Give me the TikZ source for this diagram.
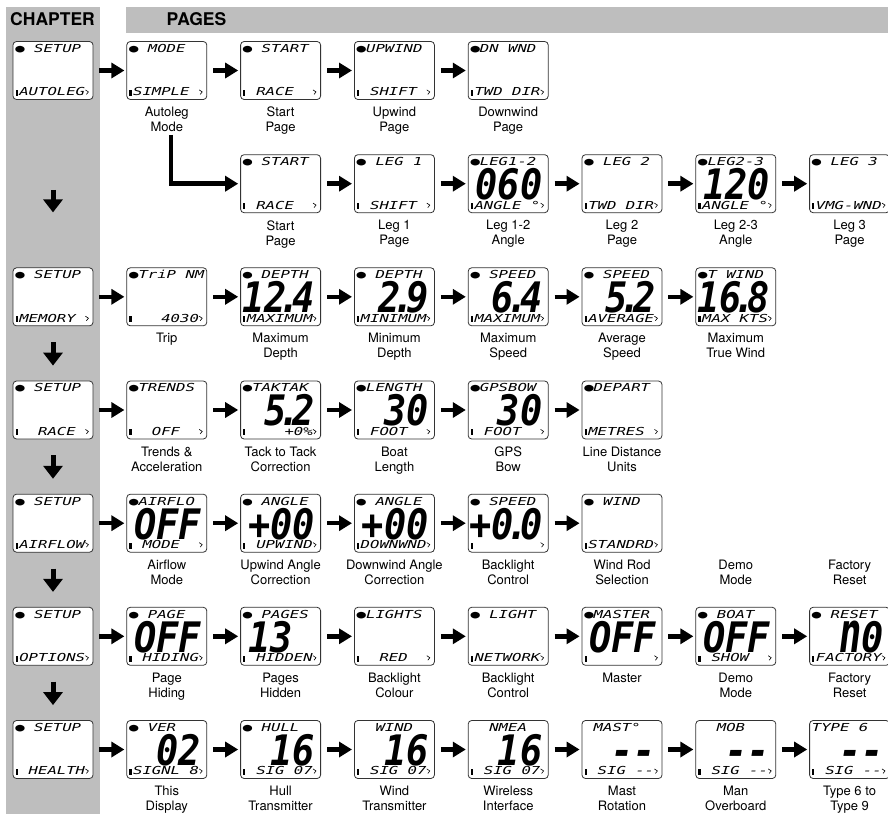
\documentclass[tikz,border=0pt]{standalone}
\usepackage{graphicx}
\usepackage{fontspec}
\setmainfont{TeX Gyre Heros}
\newfontfamily\lcdfont{DejaVu Sans Mono}
\usepackage{tikz}
\usetikzlibrary{arrows.meta,positioning}

\definecolor{band}{RGB}{190,190,190}

\newcommand{\lcdtext}[1]{\scalebox{1.42}[1]{\lcdfont\itshape\fontsize{11}{11}\selectfont #1}}
\newcommand{\bigtext}[1]{\scalebox{0.88}[1]{\lcdfont\bfseries\itshape\fontsize{42}{42}\selectfont #1}}
\newcommand{\dotp}{\kern-0.22em.\kern-0.22em}
\newcommand{\lcdscreen}[6]{%
  \node[screen,#2] (#1) {};
  \node[lcdtop] (#1top) at ([xshift=2.5pt,yshift=-3pt]#1.north west) {\lcdtext{#3}};
  \if\relax\detokenize{#4}\relax\else
    \node[lcdbig] (#1big) at ([xshift=-6pt,yshift=13.5pt]#1.south east) {\bigtext{#4}};
  \fi
  \node[lcdbot] (#1bot) at ([xshift=6.5pt,yshift=4pt]#1.south west) {\lcdtext{#5}};
  \fill ([xshift=3pt,yshift=4pt]#1.south west) rectangle ++(2.2pt,6pt);
  \draw[line width=0.6pt] ([xshift=-8pt,yshift=10pt]#1.south east) -- ++(3pt,-2pt) -- ++(-2pt,-2.5pt);
  \if\relax\detokenize{#6}\relax\else
    \node[caption, below=7pt of #1] (#1cap) {#6};
  \fi
}

\begin{document}
\begin{tikzpicture}[x=1pt, y=1pt,
  node distance=54.4pt and 33pt,
  screen/.style={draw=black!80, line width=0.8pt, fill=white, rounded corners=3.5pt, minimum width=80pt, minimum height=58pt, inner sep=0pt},
  lcdtop/.style={anchor=north west, inner sep=0pt},
  lcdbot/.style={anchor=base west, inner sep=0pt},
  lcdbig/.style={anchor=base east, inner sep=0pt},
  caption/.style={align=center, inner sep=0pt, font=\fontsize{13}{15}\selectfont},
  header/.style={inner sep=0pt, font=\fontsize{17.5}{18}\selectfont\bfseries},
  arrow/.style={-{Triangle[length=13pt,width=15pt]}, line width=4.5pt, shorten <=6pt, shorten >=2pt},
  downarrow/.style={-{Triangle[length=13pt,width=19pt]}, line width=5pt, shorten <=16pt, shorten >=15pt}
]
\useasboundingbox (0,0) rectangle (888,-814);
\clip (0,0) rectangle (888,-814);

\fill[band] (6,-7) rectangle (100,-814);
\fill[band] (126,-7) rectangle (888,-33);
\node[header] (chapter) at (52.5,-19) {CHAPTER};
\node[header] (pages) at (196.5,-19.5) {PAGES};

\lcdscreen{ch1}{at={(53,-70.5)}}{●~SETUP}{}{AUTOLEG}{}
\lcdscreen{mode}{right=of ch1}{●~MODE}{}{SIMPLE}{Autoleg\\Mode}
\lcdscreen{start}{right=of mode}{●~START}{}{~RACE}{Start\\Page}
\lcdscreen{upwind}{right=of start}{●UPWIND}{}{~SHIFT}{Upwind\\Page}
\lcdscreen{downwind}{right=of upwind}{●DN~WND}{}{TWD~DIR}{Downwind\\Page}

\lcdscreen{start2}{below=of start}{●~START}{}{~RACE}{Start\\Page}
\lcdscreen{leg1}{right=of start2}{●~LEG~1}{}{~SHIFT}{Leg 1\\Page}
\lcdscreen{leg12}{right=of leg1}{●LEG1-2}{060}{ANGLE~°}{Leg 1-2\\Angle}
\lcdscreen{leg2}{right=of leg12}{●~LEG~2}{}{TWD~DIR}{Leg 2\\Page}
\lcdscreen{leg23}{right=of leg2}{●LEG2-3}{120}{ANGLE~°}{Leg 2-3\\Angle}
\lcdscreen{leg3}{right=of leg23}{●~LEG~3}{}{VMG-WND}{Leg 3\\Page}

\lcdscreen{ch2}{at={(53,-296.8)}}{●~SETUP}{}{MEMORY}{}
\lcdscreen{trip}{right=of ch2}{●TriP~NM}{}{~~~4030}{Trip}
\lcdscreen{maxdepth}{right=of trip}{●~DEPTH}{12\dotp4}{MAXIMUM}{Maximum\\Depth}
\lcdscreen{mindepth}{right=of maxdepth}{●~DEPTH}{2\dotp9}{MINIMUM}{Minimum\\Depth}
\lcdscreen{maxspeed}{right=of mindepth}{●~SPEED}{6\dotp4}{MAXIMUM}{Maximum\\Speed}
\lcdscreen{avgspeed}{right=of maxspeed}{●~SPEED}{5\dotp2}{AVERAGE}{Average\\Speed}
\lcdscreen{truewind}{right=of avgspeed}{●T~WIND}{16\dotp8}{MAX~KTS}{Maximum\\True Wind}

\lcdscreen{ch3}{at={(53,-410)}}{●~SETUP}{}{~~RACE}{}
\lcdscreen{trends}{right=of ch3}{●TRENDS}{}{~~OFF}{Trends \&\\Acceleration}
\lcdscreen{taktak}{right=of trends}{●TAKTAK}{5\dotp2}{~~~~+0\%}{Tack to Tack\\Correction}
\lcdscreen{length}{right=of taktak}{●LENGTH}{30}{~FOOT}{Boat\\Length}
\lcdscreen{gpsbow}{right=of length}{●GPSBOW}{30}{~FOOT}{GPS\\Bow}
\lcdscreen{depart}{right=of gpsbow}{●DEPART}{}{METRES}{Line Distance\\Units}

\lcdscreen{ch4}{at={(53,-523.2)}}{●~SETUP}{}{AIRFLOW}{}
\lcdscreen{airflo}{right=of ch4}{●AIRFLO}{OFF}{~MODE}{Airflow\\Mode}
\lcdscreen{upangle}{right=of airflo}{●~ANGLE}{+00}{~UPWIND}{Upwind Angle\\Correction}
\lcdscreen{dnangle}{right=of upangle}{●~ANGLE}{+00}{DOWNWND}{Downwind Angle\\Correction}
\lcdscreen{backlight}{right=of dnangle}{●~SPEED}{+0\dotp0}{}{Backlight\\Control}
\lcdscreen{windrod}{right=of backlight}{●~WIND}{}{STANDRD}{Wind Rod\\Selection}

\lcdscreen{ch5}{at={(53,-636.3)}}{●~SETUP}{}{OPTIONS}{}
\lcdscreen{pagehide}{right=of ch5}{●~PAGE}{OFF}{~HIDING}{Page\\Hiding}
\lcdscreen{hidden}{right=of pagehide}{●~PAGES}{13~}{~HIDDEN}{Pages\\Hidden}
\lcdscreen{lightcol}{right=of hidden}{●LIGHTS}{}{~~RED}{Backlight\\Colour}
\lcdscreen{lightctl}{right=of lightcol}{●~LIGHT}{}{NETWORK}{Backlight\\Control}
\lcdscreen{master}{right=of lightctl}{●MASTER}{OFF}{}{Master}
\lcdscreen{demo}{right=of master}{●~BOAT}{OFF}{~SHOW}{Demo\\Mode}
\lcdscreen{reset}{right=of demo}{●~RESET}{\scalebox{1}[1.34]{n}0}{FACTORY}{Factory\\Reset}

\lcdscreen{ch6}{at={(53,-749.5)}}{●~SETUP}{}{~HEALTH}{}
\lcdscreen{thisdisp}{right=of ch6}{●~VER}{02}{SIGNL~8}{This\\Display}
\lcdscreen{hull}{right=of thisdisp}{●~HULL}{16}{~SIG~07}{Hull\\Transmitter}
\lcdscreen{windtx}{right=of hull}{~~WIND}{16}{~SIG~07}{Wind\\Transmitter}
\lcdscreen{nmea}{right=of windtx}{~~NMEA}{16}{~SIG~07}{Wireless\\Interface}
\lcdscreen{mast}{right=of nmea}{~MAST°}{-{}-}{~SIG~-{}-}{Mast\\Rotation}
\lcdscreen{mob}{right=of mast}{~~MOB}{-{}-}{~SIG~-{}-}{Man\\Overboard}
\lcdscreen{type6}{right=of mob}{TYPE~6}{-{}-}{~SIG~-{}-}{Type 6 to\\Type 9}

\node[caption, anchor=north] (demolbl) at (demo.north |- windrodcap.north) {Demo\\Mode};
\node[caption, anchor=north] (resetlbl) at (reset.north |- windrodcap.north) {Factory\\Reset};

\draw[arrow] (ch1) -- (mode);
\draw[arrow] (mode) -- (start);
\draw[arrow] (start) -- (upwind);
\draw[arrow] (upwind) -- (downwind);
\draw[arrow, shorten <=3pt] ([xshift=4pt]modecap.south) |- (start2.west);
\draw[arrow] (start2) -- (leg1);
\draw[arrow] (leg1) -- (leg12);
\draw[arrow] (leg12) -- (leg2);
\draw[arrow] (leg2) -- (leg23);
\draw[arrow] (leg23) -- (leg3);
\draw[arrow] (ch2) -- (trip);
\draw[arrow] (trip) -- (maxdepth);
\draw[arrow] (maxdepth) -- (mindepth);
\draw[arrow] (mindepth) -- (maxspeed);
\draw[arrow] (maxspeed) -- (avgspeed);
\draw[arrow] (avgspeed) -- (truewind);
\draw[arrow] (ch3) -- (trends);
\draw[arrow] (trends) -- (taktak);
\draw[arrow] (taktak) -- (length);
\draw[arrow] (length) -- (gpsbow);
\draw[arrow] (gpsbow) -- (depart);
\draw[arrow] (ch4) -- (airflo);
\draw[arrow] (airflo) -- (upangle);
\draw[arrow] (upangle) -- (dnangle);
\draw[arrow] (dnangle) -- (backlight);
\draw[arrow] (backlight) -- (windrod);
\draw[arrow] (ch5) -- (pagehide);
\draw[arrow] (pagehide) -- (hidden);
\draw[arrow] (hidden) -- (lightcol);
\draw[arrow] (lightcol) -- (lightctl);
\draw[arrow] (lightctl) -- (master);
\draw[arrow] (master) -- (demo);
\draw[arrow] (demo) -- (reset);
\draw[arrow] (ch6) -- (thisdisp);
\draw[arrow] (thisdisp) -- (hull);
\draw[arrow] (hull) -- (windtx);
\draw[arrow] (windtx) -- (nmea);
\draw[arrow] (nmea) -- (mast);
\draw[arrow] (mast) -- (mob);
\draw[arrow] (mob) -- (type6);
\draw[downarrow, shorten <=90pt, shorten >=55pt] (ch1) -- (ch2);
\draw[downarrow] (ch2) -- (ch3);
\draw[downarrow] (ch3) -- (ch4);
\draw[downarrow] (ch4) -- (ch5);
\draw[downarrow] (ch5) -- (ch6);
\end{tikzpicture}
\end{document}
